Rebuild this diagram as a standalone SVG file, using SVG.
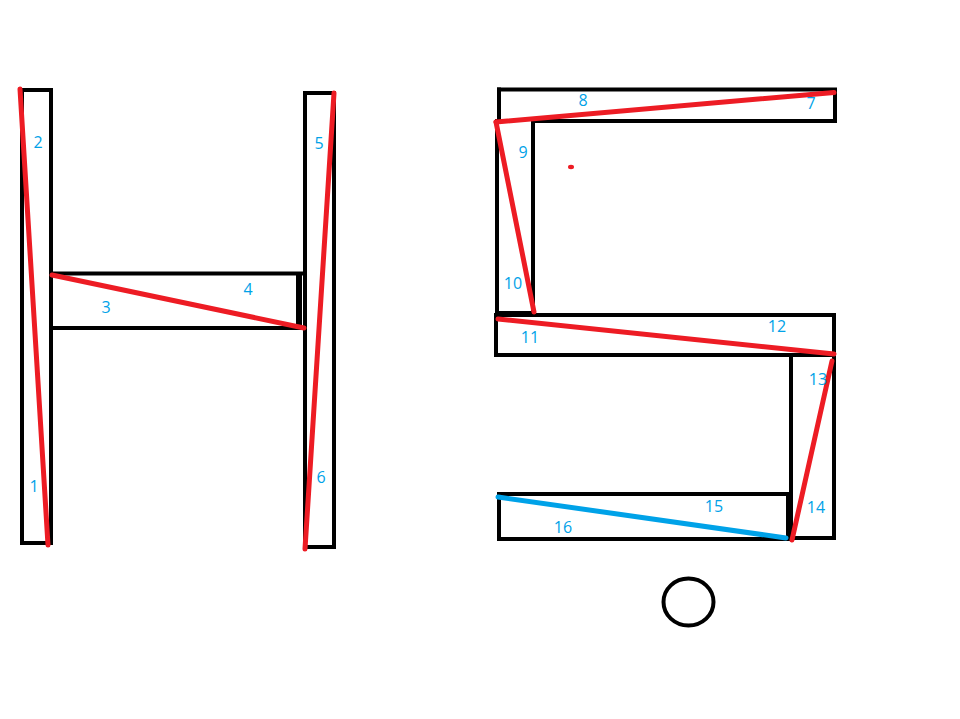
<svg xmlns="http://www.w3.org/2000/svg" width="960" height="719" viewBox="0 0 960 719">
<style>
.k{fill:none;stroke:#000;stroke-width:4;stroke-linecap:square}
.r{stroke:#ED1C24;stroke-width:5;stroke-linecap:round}
.b{stroke:#00A2E8;stroke-width:5;stroke-linecap:round}
.t{font-family:"Open Sans","DejaVu Sans",sans-serif;font-size:16px;fill:#00A2E8;text-anchor:middle;dominant-baseline:central}
</style>
<rect width="960" height="719" fill="#fff"/>
<g id="letter-h">
<rect class="k" x="22" y="90" width="29" height="453"/>
<rect class="k" x="305" y="93" width="29" height="454"/>
<path class="k" d="M51 273.5H303M51 328H303"/>
<path d="M299 272V330" stroke="#000" stroke-width="6"/>
</g>
<g id="letter-5">
<path class="k" d="M499 89.5H835V121H533V313M497 121V313H533"/>
<path class="k" d="M499 89.5V121"/>
<rect class="k" x="496" y="315" width="338" height="40"/>
<path class="k" d="M791 355V538H834V355"/>
<path class="k" d="M788 494H499V539H791"/>
<path d="M788 494V539" stroke="#000" stroke-width="4"/>
</g>
<g id="circle">
<ellipse class="k" cx="688.5" cy="602" rx="25" ry="23.5"/>
</g>
<g id="connectors">
<line class="r" x1="20" y1="89" x2="48" y2="545"/>
<line class="r" x1="334" y1="93" x2="305" y2="549"/>
<line class="r" x1="52" y1="275" x2="304" y2="328"/>
<line class="r" x1="496" y1="122" x2="834" y2="92.5"/>
<line class="r" x1="496" y1="122" x2="534" y2="312"/>
<line class="r" x1="498" y1="319" x2="834" y2="354"/>
<line class="r" x1="832" y1="361" x2="792" y2="540"/>
<line class="b" x1="498" y1="497" x2="786" y2="538"/>
<ellipse cx="571" cy="167" rx="3" ry="2.2" fill="#ED1C24"/>
</g>
<g id="labels">
<text class="t" x="38" y="142">2</text>
<text class="t" x="34" y="486">1</text>
<text class="t" x="106" y="307">3</text>
<text class="t" x="248" y="289">4</text>
<text class="t" x="319" y="143">5</text>
<text class="t" x="321" y="477">6</text>
<text class="t" x="811" y="103">7</text>
<text class="t" x="583" y="100">8</text>
<text class="t" x="523" y="152">9</text>
<text class="t" x="513" y="283">10</text>
<text class="t" x="530" y="337">11</text>
<text class="t" x="777" y="326">12</text>
<text class="t" x="818" y="379">13</text>
<text class="t" x="816" y="507">14</text>
<text class="t" x="714" y="506">15</text>
<text class="t" x="563" y="527">16</text>
</g>
</svg>
